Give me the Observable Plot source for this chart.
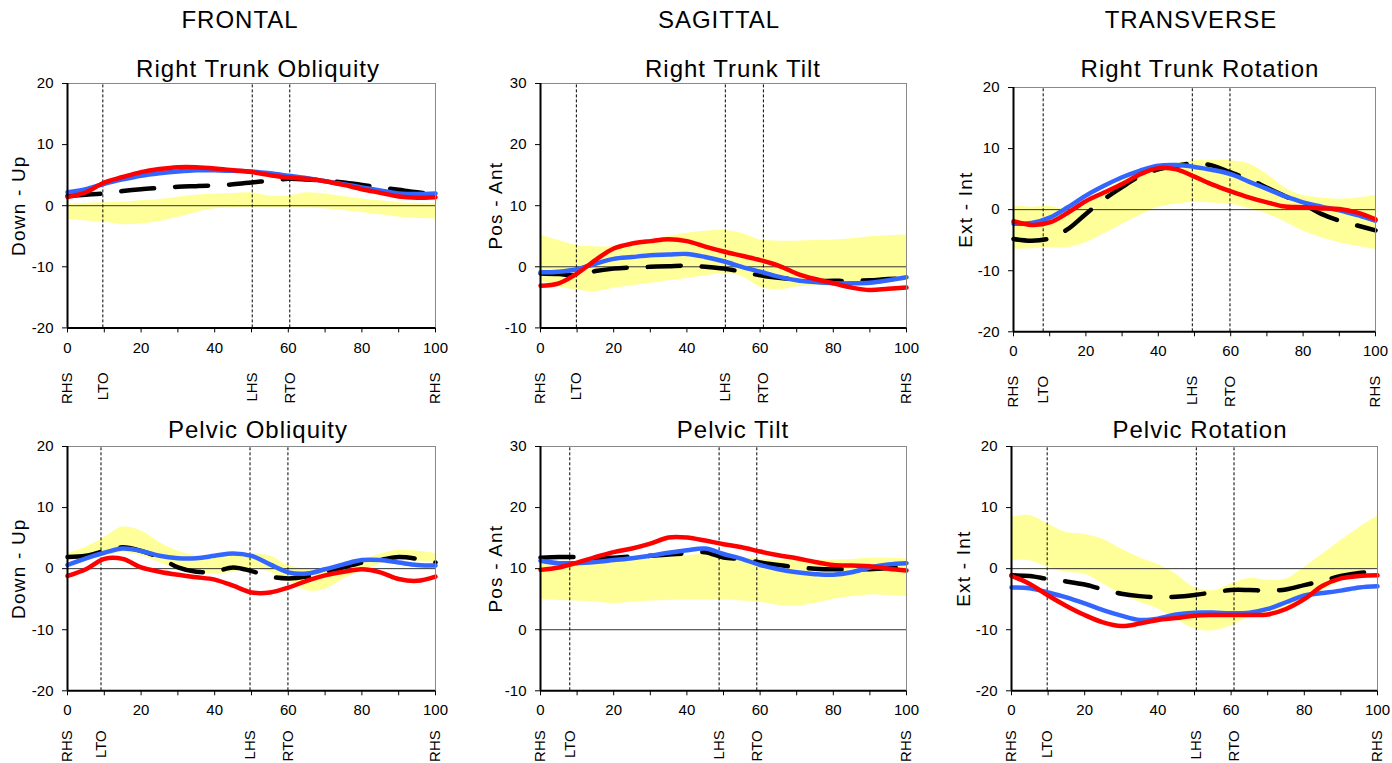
<!DOCTYPE html>
<html><head><meta charset="utf-8">
<script src="https://cdn.jsdelivr.net/npm/d3@7"></script>
<script src="https://cdn.jsdelivr.net/npm/@observablehq/plot@0.6"></script>
<style>
body{margin:0;background:#fff;font-family:'Liberation Sans',Arial,sans-serif;}
#root{position:relative;width:1392px;height:763px;overflow:hidden;background:#fff;}
.t{position:absolute;transform:translateX(-50%);white-space:nowrap;font-size:24px;line-height:24px;letter-spacing:1px;color:#000;z-index:2;}
.p{position:absolute;z-index:1;}
</style></head><body><div id="root"></div>
<script>
// gait cycle (%)
const gait = [0,5,10,15,20,25,30,35,40,45,50,55,60,65,70,75,80,85,90,95,100];
const eventNames = ["RHS","LTO","LHS","RTO","RHS"];
const columnTitles = ["FRONTAL","SAGITTAL","TRANSVERSE"];

// Right Trunk Obliquity
const trunkObl_hi    = [0.2,0.4,0.5,0.6,0.8,1.0,1.4,1.7,1.9,2.0,2.1,1.6,1.6,2.1,1.9,1.5,1.1,0.8,0.5,0.4,0.3];
const trunkObl_lo    = [-2.2,-2.5,-2.7,-3.1,-3.0,-2.6,-1.9,-1.1,-0.5,-0.4,-0.3,-0.3,-0.3,-0.4,-0.5,-0.8,-1.1,-1.5,-1.9,-2.1,-2.2];
const trunkObl_black = [1.6,1.8,2.0,2.4,2.7,2.9,3.1,3.2,3.3,3.5,3.8,4.1,4.4,4.3,4.1,3.8,3.4,3.0,2.6,2.2,1.9];
const trunkObl_blue  = [2.2,2.7,3.6,4.3,4.9,5.3,5.6,5.8,5.8,5.7,5.6,5.3,4.9,4.5,4.0,3.5,3.0,2.5,2.0,1.9,2.0];
const trunkObl_red   = [1.4,2.2,3.8,4.7,5.5,6.0,6.3,6.3,6.1,5.8,5.5,5.0,4.6,4.4,4.0,3.4,2.7,2.1,1.5,1.3,1.4];
const trunkObl_events = [0,9.6,50.2,60.4,100];

// Right Trunk Tilt
const trunkTilt_hi    = [5.2,4.3,3.5,3.3,3.3,3.8,4.4,5.0,5.5,5.8,6.0,5.5,4.4,4.2,4.2,4.3,4.4,4.6,4.9,5.1,5.2];
const trunkTilt_lo    = [-2.2,-3.3,-3.8,-4.1,-3.5,-3.1,-2.7,-2.3,-1.9,-1.5,-1.1,-1.6,-3.3,-3.8,-3.3,-3.1,-3.0,-2.7,-2.5,-2.3,-2.2];
const trunkTilt_black = [-1.1,-1.2,-1.4,-0.7,-0.3,-0.1,0.0,0.1,0.2,0.0,-0.3,-0.8,-1.4,-1.8,-2.1,-2.3,-2.3,-2.3,-2.2,-2.0,-1.9];
const trunkTilt_blue  = [-0.9,-0.8,-0.4,0.5,1.3,1.6,1.9,2.0,2.1,1.6,0.9,0.0,-0.8,-1.6,-2.2,-2.5,-2.7,-2.7,-2.6,-2.2,-1.7];
const trunkTilt_red   = [-3.1,-2.7,-1.1,1.1,3.0,3.8,4.2,4.5,4.2,3.3,2.5,1.8,1.1,0.2,-1.1,-2.0,-2.7,-3.4,-3.8,-3.6,-3.4];
const trunkTilt_events = [0,9.8,50.5,60.9,100];

// Right Trunk Rotation
const trunkRot_hi    = [0.6,0.4,0.5,0.1,1.4,3.0,4.7,6.0,6.9,7.6,8.0,8.1,8.0,7.5,5.8,3.6,2.3,1.9,1.7,1.9,2.3];
const trunkRot_lo    = [-6.5,-6.4,-6.2,-6.2,-5.4,-4.0,-2.4,-0.9,0.4,0.9,1.2,1.1,0.9,0.2,-0.7,-2.0,-3.5,-4.6,-5.4,-6.0,-6.5];
const trunkRot_black = [-4.8,-5.1,-4.7,-3.2,-0.7,1.7,3.7,5.5,6.6,7.2,7.6,7.2,6.1,5.0,3.6,2.2,0.9,-0.7,-1.8,-2.6,-3.4];
const trunkRot_blue  = [-2.3,-2.2,-1.3,0.4,2.3,3.9,5.3,6.4,7.2,7.3,7.0,6.5,5.8,4.6,3.4,2.2,1.2,0.5,-0.1,-0.9,-1.8];
const trunkRot_red   = [-1.9,-2.5,-2.1,-0.5,1.4,2.8,4.2,5.8,6.8,6.6,5.4,4.1,3.0,2.0,1.2,0.5,0.4,0.2,0.1,-0.5,-1.6];
const trunkRot_events = [0,8.2,49.4,59.8,100];

// Pelvic Obliquity
const pelObl_hi    = [2.4,3.5,5.1,6.8,6.2,4.3,2.9,2.1,1.8,2.1,2.4,2.1,0.5,-0.1,-0.4,0.2,1.3,2.4,3.0,2.9,2.5];
const pelObl_lo    = [1.3,1.6,2.1,2.6,2.1,1.0,-0.1,-0.6,-0.9,-0.6,0.2,-0.6,-2.0,-3.6,-3.4,-1.7,-0.4,0.7,1.3,1.2,1.0];
const pelObl_black = [1.9,2.1,2.9,3.5,2.9,1.8,0.2,-0.5,-0.5,0.2,-0.4,-1.3,-1.6,-1.3,-0.6,0.2,1.0,1.4,1.9,1.6,1.0];
const pelObl_blue  = [0.6,1.7,2.6,3.3,2.9,2.1,1.7,1.7,2.1,2.5,2.1,0.7,-0.6,-0.8,-0.1,0.7,1.4,1.4,1.0,0.6,0.5];
const pelObl_red   = [-1.2,-0.1,1.6,1.6,0.2,-0.5,-1.0,-1.4,-1.8,-2.8,-3.9,-3.9,-3.1,-2.0,-1.1,-0.5,-0.1,-0.6,-1.7,-2.0,-1.3];
const pelObl_events = [0,9.1,49.6,59.9,100];

// Pelvic Tilt
const pelTilt_hi    = [11.0,11.0,11.0,11.1,11.3,11.4,11.6,11.9,12.1,12.4,12.1,11.8,11.6,11.4,11.3,11.3,11.4,11.5,11.7,11.7,11.6];
const pelTilt_lo    = [4.9,4.8,4.7,4.5,4.3,4.5,4.7,4.8,4.9,4.9,4.9,4.7,4.5,4.0,3.9,4.3,5.0,5.4,5.7,5.6,5.4];
const pelTilt_black = [11.8,11.9,11.9,11.8,11.8,12.0,12.1,12.3,12.5,12.7,11.8,11.6,11.0,10.6,10.2,10.0,9.9,9.9,9.9,10.1,10.4];
const pelTilt_blue  = [11.3,10.9,10.9,11.1,11.4,11.7,12.1,12.6,13.0,13.3,12.4,11.6,10.6,9.9,9.4,9.1,9.0,9.4,10.2,10.7,10.9];
const pelTilt_red   = [9.8,10.2,11.0,11.9,12.7,13.3,14.1,15.1,15.1,14.6,14.0,13.5,12.8,12.2,11.7,11.1,10.6,10.5,10.4,10.0,9.7];
const pelTilt_events = [0,8.0,48.8,59.1,100];

// Pelvic Rotation
const pelRot_hi    = [8.4,8.7,7.3,5.9,5.6,4.8,3.2,1.8,0.7,-0.9,-3.1,-3.6,-2.5,-1.6,-1.9,-1.7,0.2,2.4,4.6,6.7,8.6];
const pelRot_lo    = [1.3,1.3,0.2,-0.6,-0.9,-2.5,-4.2,-5.5,-6.6,-8.3,-9.9,-10.2,-9.4,-8.0,-7.7,-6.9,-5.5,-3.6,-2.0,-0.6,-0.1];
const pelRot_black = [-1.1,-1.2,-1.7,-2.1,-2.6,-3.4,-4.1,-4.5,-4.7,-4.6,-4.3,-3.9,-3.5,-3.5,-3.6,-3.4,-2.7,-2.0,-1.2,-0.7,-0.6];
const pelRot_blue  = [-3.1,-3.2,-3.9,-4.7,-5.7,-6.8,-7.7,-8.4,-8.2,-7.5,-7.2,-7.2,-7.3,-7.2,-6.6,-5.5,-4.4,-4.0,-3.6,-3.1,-2.9];
const pelRot_red   = [-1.2,-2.5,-4.4,-6.1,-7.6,-8.8,-9.4,-9.0,-8.4,-8.1,-7.7,-7.6,-7.6,-7.6,-7.5,-6.6,-5.0,-2.8,-1.6,-1.2,-1.1];
const pelRot_events = [0,9.75,50.5,60.8,100];

const panels = [
  {title:"Right Trunk Obliquity", ylab:"Down - Up", dom:[-20,20], hi:trunkObl_hi, lo:trunkObl_lo, k:trunkObl_black, b:trunkObl_blue, r:trunkObl_red, ev:trunkObl_events,
   box:[67,435,83.3,327.7], tx:258, ty:56.5, ldx:-49, edy:44.5, mb:82},
  {title:"Right Trunk Tilt", ylab:"Pos - Ant", dom:[-10,30], hi:trunkTilt_hi, lo:trunkTilt_lo, k:trunkTilt_black, b:trunkTilt_blue, r:trunkTilt_red, ev:trunkTilt_events,
   box:[540,906,83.3,327.7], tx:733, ty:56.5, ldx:-45, edy:44.5, mb:82},
  {title:"Right Trunk Rotation", ylab:"Ext - Int", dom:[-20,20], hi:trunkRot_hi, lo:trunkRot_lo, k:trunkRot_black, b:trunkRot_blue, r:trunkRot_red, ev:trunkRot_events,
   box:[1013,1375,86.7,331], tx:1200, ty:56.5, ldx:-48, edy:44, mb:80},
  {title:"Pelvic Obliquity", ylab:"Down - Up", dom:[-20,20], hi:pelObl_hi, lo:pelObl_lo, k:pelObl_black, b:pelObl_blue, r:pelObl_red, ev:pelObl_events,
   box:[67,435,445.7,690], tx:258, ty:417.5, ldx:-49, edy:39.5, mb:72},
  {title:"Pelvic Tilt", ylab:"Pos - Ant", dom:[-10,30], hi:pelTilt_hi, lo:pelTilt_lo, k:pelTilt_black, b:pelTilt_blue, r:pelTilt_red, ev:pelTilt_events,
   box:[540,906,445.7,690], tx:733, ty:417.5, ldx:-45, edy:39.5, mb:72},
  {title:"Pelvic Rotation", ylab:"Ext - Int", dom:[-20,20], hi:pelRot_hi, lo:pelRot_lo, k:pelRot_black, b:pelRot_blue, r:pelRot_red, ev:pelRot_events,
   box:[1011,1377,445.7,690], tx:1200, ty:417.5, ldx:-48, edy:39.5, mb:72}
];

const root = document.getElementById("root");
const colX = [240, 719, 1191];
columnTitles.forEach((t,i) => {
  const d = document.createElement("div");
  d.className = "t"; d.textContent = t;
  d.style.left = colX[i] + "px"; d.style.top = "7.5px";
  root.appendChild(d);
});

const ML = 67, MR = 15, MT = 8;
panels.forEach(p => {
  const [x0,x1,y0,y1] = p.box;
  const rows = gait.map((x,i) => ({x, lo:p.lo[i], hi:p.hi[i], k:p.k[i], b:p.b[i], r:p.r[i]}));
  const events = p.ev.map((x,i) => ({x, label:eventNames[i]}));
  const inner = events.slice(1,4);
  const [ymin,ymax] = p.dom;
  const svg = Plot.plot({
    width: (x1-x0) + ML + MR,
    height: (y1-y0) + MT + p.mb,
    marginLeft: ML, marginRight: MR, marginTop: MT, marginBottom: p.mb,
    x: {domain:[0,100]},
    y: {domain:[ymin,ymax]},
    style: {fontFamily:"'Liberation Sans', Arial, sans-serif", fontSize:"15px", color:"#000", background:"#fff", overflow:"visible"},
    marks: [
      Plot.areaY(rows, {x:"x", y1:"lo", y2:"hi", fill:"#ffff99", curve:"catmull-rom"}),
      Plot.ruleY([0], {stroke:"#333", strokeWidth:1}),
      Plot.ruleX(inner, {x:"x", y1:ymin, y2:ymax, stroke:"#000", strokeWidth:1, strokeDasharray:"3,2"}),
      Plot.line(rows, {x:"x", y:"k", stroke:"#000", strokeWidth:4.5, strokeDasharray:"33,21", strokeLinecap:"round", curve:"catmull-rom"}),
      Plot.line(rows, {x:"x", y:"b", stroke:"#3366ff", strokeWidth:4.5, curve:"catmull-rom"}),
      Plot.line(rows, {x:"x", y:"r", stroke:"#ff0000", strokeWidth:4.5, curve:"catmull-rom"}),
      Plot.ruleY([ymax], {stroke:"#888", strokeWidth:1}),
      Plot.ruleX([100], {stroke:"#888", strokeWidth:1}),
      Plot.ruleX([0], {stroke:"#000", strokeWidth:2}),
      Plot.ruleY([ymin], {stroke:"#000", strokeWidth:2}),
      Plot.axisY({ticks:d3.range(ymin, ymax+1, 10), tickSize:5, tickPadding:9, label:null, tickFormat:d => String(d)}),
      Plot.axisX({ticks:d3.range(0,101,10), tickSize:5, tickPadding:9, label:null, tickFormat:d => d % 20 ? "" : String(d)}),
      Plot.text([p.ylab], {text:d => d, frameAnchor:"left", dx:p.ldx, rotate:-90, fontSize:19, textAnchor:"middle", lineAnchor:"middle"}),
      Plot.text(events, {x:"x", text:"label", frameAnchor:"bottom", dy:p.edy, rotate:-90, textAnchor:"end", lineAnchor:"middle", fontSize:15})
    ]
  });
  svg.querySelectorAll("text").forEach(t => { if (t.textContent === p.ylab) t.setAttribute("letter-spacing","1.2"); });
  svg.classList.add("p");
  svg.style.left = (x0 - ML) + "px";
  svg.style.top = (y0 - MT) + "px";
  root.appendChild(svg);

  const d = document.createElement("div");
  d.className = "t"; d.textContent = p.title;
  d.style.left = p.tx + "px"; d.style.top = p.ty + "px";
  root.appendChild(d);
});
</script>
</body></html>
